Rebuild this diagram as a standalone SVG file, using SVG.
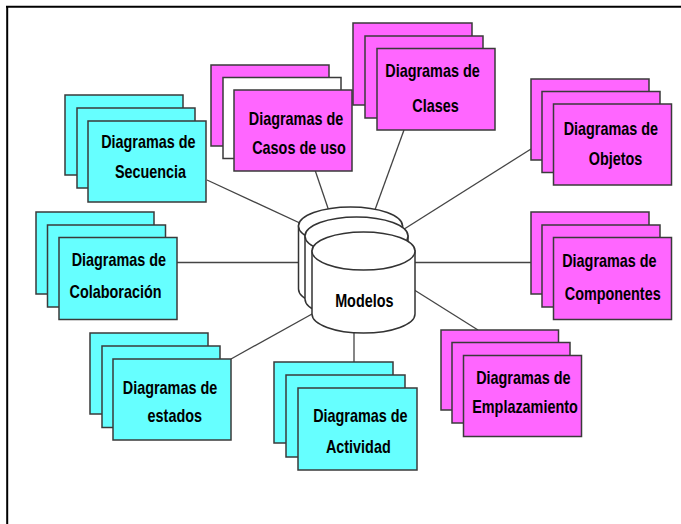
<svg xmlns="http://www.w3.org/2000/svg" width="681" height="524" viewBox="0 0 681 524">
<style>
.c{fill:#66FFFF;stroke:#3a3a3a;stroke-width:1.5}
.m{fill:#FF66FF;stroke:#3a3a3a;stroke-width:1.5}
.w{fill:#FFFFFF;stroke:#3a3a3a;stroke-width:1.5}
.t{font-family:"Liberation Sans",Arial,sans-serif;font-weight:bold;font-size:18px;fill:#000;text-anchor:middle}
.cyl{fill:#FFFFFF;stroke:#333;stroke-width:1.5}
.ln{stroke:#444;stroke-width:1.3;fill:none}
</style>
<rect x="0" y="0" width="681" height="524" fill="#FFFFFF"/>
<g id="frame" stroke="#000" stroke-width="2" fill="none">
<line x1="6" y1="6.8" x2="681" y2="6.8"/>
<line x1="7.2" y1="6" x2="7.2" y2="524"/>
</g>
<g id="connectors" class="ln">
<line x1="207" y1="180" x2="330" y2="237"/>
<line x1="315" y1="170" x2="332" y2="220"/>
<line x1="404" y1="130" x2="372" y2="218"/>
<line x1="531" y1="149" x2="390" y2="238"/>
<line x1="177" y1="262.5" x2="320" y2="262.5"/>
<line x1="400" y1="262.5" x2="531" y2="262.5"/>
<line x1="231" y1="359" x2="330" y2="304"/>
<line x1="354" y1="320" x2="354" y2="362"/>
<line x1="400" y1="281" x2="478" y2="330"/>
</g>
<g id="modelos">
<path class="cyl" d="M298.5,226 L298.5,289 A52,19 0 0 0 402.5,289 L402.5,226 Z"/>
<ellipse class="cyl" cx="350.5" cy="226" rx="52" ry="19"/>
<path class="cyl" d="M305,236 L305,299 A51.5,19 0 0 0 408,299 L408,236 Z"/>
<ellipse class="cyl" cx="356.5" cy="236" rx="51.5" ry="19"/>
<path class="cyl" d="M312,251 L312,314 A51.5,19 0 0 0 415,314 L415,251 Z"/>
<ellipse class="cyl" cx="363.5" cy="251" rx="51.5" ry="19"/>
<text class="t" transform="translate(364.3,306.7) scale(0.8,1)">Modelos</text>
</g>
<g id="casos">
<rect class="m" x="211" y="65" width="118" height="81"/>
<rect class="w" x="223" y="77.5" width="118" height="81"/>
<rect class="m" x="234" y="90" width="118" height="81"/>
<text class="t" transform="translate(296,125) scale(0.8,1)">Diagramas de</text>
<text class="t" transform="translate(299,154.3) scale(0.8,1)">Casos de uso</text>
</g>
<g id="secuencia">
<rect class="c" x="65" y="95" width="118" height="80"/>
<rect class="c" x="77" y="108" width="118" height="80"/>
<rect class="c" x="88" y="121" width="118" height="81"/>
<text class="t" transform="translate(148.3,148.3) scale(0.8,1)">Diagramas de</text>
<text class="t" transform="translate(150.5,178.3) scale(0.8,1)">Secuencia</text>
</g>
<g id="clases">
<rect class="m" x="353" y="23" width="119" height="82"/>
<rect class="m" x="365" y="36" width="118" height="82"/>
<rect class="m" x="377" y="48.5" width="118" height="81.5"/>
<text class="t" transform="translate(432.5,76.7) scale(0.8,1)">Diagramas de</text>
<text class="t" transform="translate(435.5,111.7) scale(0.8,1)">Clases</text>
</g>
<g id="objetos">
<rect class="m" x="531" y="79" width="118" height="81"/>
<rect class="m" x="542" y="91.5" width="118" height="81"/>
<rect class="m" x="553.5" y="104" width="118" height="81"/>
<text class="t" transform="translate(610.8,135) scale(0.8,1)">Diagramas de</text>
<text class="t" transform="translate(615.5,165) scale(0.8,1)">Objetos</text>
</g>
<g id="colaboracion">
<rect class="c" x="36" y="212" width="118" height="82"/>
<rect class="c" x="47.5" y="225" width="118" height="82"/>
<rect class="c" x="59" y="237.5" width="118" height="82"/>
<text class="t" transform="translate(118.8,266) scale(0.8,1)">Diagramas de</text>
<text class="t" transform="translate(115.5,298.3) scale(0.8,1)">Colaboración</text>
</g>
<g id="componentes">
<rect class="m" x="531" y="212" width="118" height="82"/>
<rect class="m" x="542" y="225" width="118" height="82"/>
<rect class="m" x="553.5" y="237.5" width="118" height="82"/>
<text class="t" transform="translate(609.4,267) scale(0.8,1)">Diagramas de</text>
<text class="t" transform="translate(612.7,300) scale(0.8,1)">Componentes</text>
</g>
<g id="estados">
<rect class="c" x="90" y="333" width="118" height="81"/>
<rect class="c" x="102" y="346" width="118" height="81.5"/>
<rect class="c" x="113" y="359" width="118" height="81"/>
<text class="t" transform="translate(170,394) scale(0.8,1)">Diagramas de</text>
<text class="t" transform="translate(174.8,422) scale(0.8,1)">estados</text>
</g>
<g id="actividad">
<rect class="c" x="274" y="362" width="119" height="81"/>
<rect class="c" x="286" y="375" width="119" height="82"/>
<rect class="c" x="298" y="388" width="119" height="82"/>
<text class="t" transform="translate(360.3,421.7) scale(0.8,1)">Diagramas de</text>
<text class="t" transform="translate(358.3,452.7) scale(0.8,1)">Actividad</text>
</g>
<g id="emplazamiento">
<rect class="m" x="441" y="330" width="117.5" height="80"/>
<rect class="m" x="452" y="342.5" width="118" height="80.5"/>
<rect class="m" x="463.5" y="355.5" width="118" height="81"/>
<text class="t" transform="translate(523.3,384) scale(0.8,1)">Diagramas de</text>
<text class="t" transform="translate(525,413.3) scale(0.8,1)">Emplazamiento</text>
</g>
</svg>
